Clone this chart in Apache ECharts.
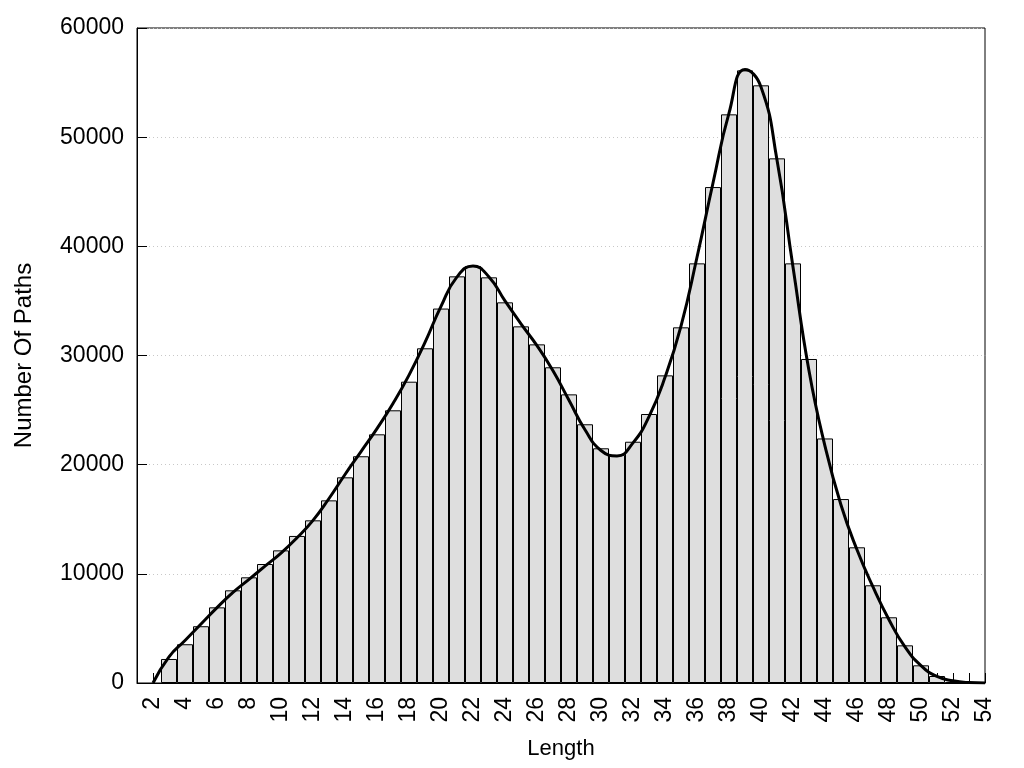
<!DOCTYPE html>
<html>
<head>
<meta charset="utf-8">
<script src="https://cdn.jsdelivr.net/npm/echarts@6/dist/echarts.min.js"></script>
<style>
html,body{margin:0;padding:0;background:#fff;}
#chart{width:1024px;height:768px;}
</style>
</head>
<body>
<div id="chart"></div>
<script>
// Length categories 1..54
var lengths = [];
for (var i = 1; i <= 54; i++) lengths.push(String(i));

// Histogram counts (length 1..54)
var pathCounts = [
  '-', '-', 2200, 3550, 5200, 6930, 8490, 9680, 10900, 12150,
  13470, 14900, 16730, 18840, 20770, 22780, 24980, 27600, 30660, 34300,
  37250, 38200, 37160, 34870, 32670, 31020, 28920, 26440, 23700, 21500,
  20890, 22100, 24640, 28180, 32580, 38440, 45430, 52090, 56120, 54750,
  48060, 38440, 29680, 22400, 16850, 12430, 8950, 6020, 3450, 1620,
  640, 100, 20, '-'
];

// Smoothed density curve (length 1..54)
var curveValues = [
  '-', 0, 2400, 3900, 5400, 6900, 8300, 9500, 10700, 11900,
  13300, 14900, 16900, 19100, 21200, 23300, 25600, 28200, 31200, 34500,
  37200, 38200, 37200, 35000, 32900, 30900, 28600, 25900, 23200, 21300,
  20800, 22000, 24400, 28000, 32700, 39000, 45800, 52200, 56200, 54600,
  47900, 38100, 28600, 21700, 16300, 12200, 8800, 5800, 3300, 1600,
  600, 200, 40, 0
];

var yTicks = { min: 0, max: 60000, interval: 10000 };

var font = '"Liberation Sans", Arial, sans-serif';
var chart = echarts.init(document.getElementById('chart'));
chart.setOption({
  animation: false,
  backgroundColor: '#fff',
  grid: { left: 137, right: 39, top: 28, bottom: 85, show: true, borderColor: '#000', borderWidth: 1, backgroundColor: 'transparent' },
  xAxis: {
    type: 'category',
    data: lengths,
    boundaryGap: false,
    axisLine: { lineStyle: { color: '#000', width: 1 } },
    axisTick: { inside: true, length: 10, interval: 0, lineStyle: { color: '#000' } },
    axisLabel: {
      rotate: 90, margin: 14, fontSize: 23, color: '#000', fontFamily: font,
      interval: function (idx, val) { return (+val) % 2 === 0; }
    },
    splitLine: { show: false },
    name: 'Length', nameLocation: 'middle', nameGap: 55,
    nameTextStyle: { fontSize: 22, color: '#000', fontFamily: font }
  },
  yAxis: {
    type: 'value',
    min: yTicks.min, max: yTicks.max, interval: yTicks.interval,
    axisLine: { show: true, lineStyle: { color: '#000', width: 1 } },
    axisTick: { show: true, inside: true, length: 10, lineStyle: { color: '#000' } },
    axisLabel: { margin: 13, fontSize: 23, color: '#000', fontFamily: font,
      formatter: function (v) { return String(v); } },
    splitLine: { show: true, lineStyle: { color: '#c8c8c8', type: [1, 3], width: 1 } },
    name: 'Number Of Paths', nameLocation: 'middle', nameGap: 101,
    nameTextStyle: { fontSize: 24, color: '#000', fontFamily: font }
  },
  series: [
    {
      type: 'bar',
      data: pathCounts,
      barWidth: '100%',
      itemStyle: { color: '#dedede', borderColor: '#000', borderWidth: 1 },
      z: 2
    },
    {
      type: 'line',
      data: curveValues,
      smooth: 0.5,
      symbol: 'none',
      lineStyle: { color: '#000', width: 3 },
      z: 3
    }
  ]
});
</script>
</body>
</html>
